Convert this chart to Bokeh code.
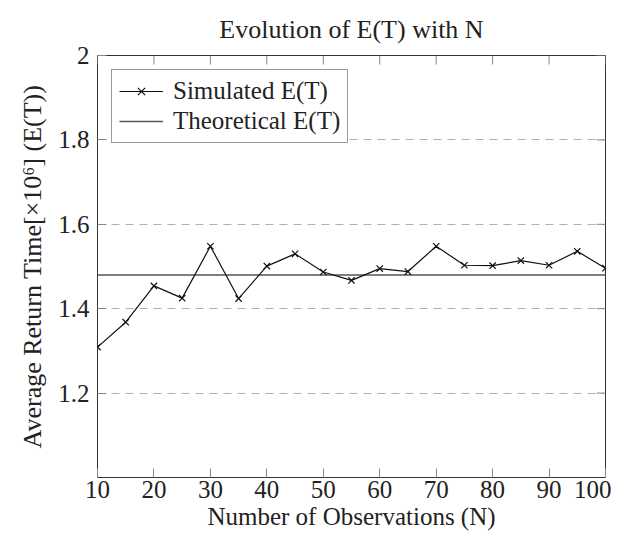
from bokeh.plotting import figure
from bokeh.models import (FixedTicker, CustomJSTickFormatter, Range1d,
                          Legend, LegendItem)
from bokeh.embed import file_html
from bokeh.resources import INLINE

observations = [10, 15, 20, 25, 30, 35, 40, 45, 50, 55, 60, 65, 70, 75, 80, 85, 90, 95, 100]
simulated = [1.309, 1.368, 1.454, 1.425, 1.548, 1.424, 1.501, 1.530, 1.487, 1.467,
             1.495, 1.488, 1.548, 1.503, 1.502, 1.514, 1.503, 1.536, 1.496]
theoretical_value = 1.48
theoretical_x = [10, 100]
theoretical = [theoretical_value, theoretical_value]
x_ticks = [10, 20, 30, 40, 50, 60, 70, 80, 90, 100]
y_ticks = [1.2, 1.4, 1.6, 1.8, 2.0]
x_min, x_max = 10, 100
y_min, y_max = 1.0, 2.0

FONT = "Liberation Serif"
TICK_COLOR = "#888888"
TEXT_COLOR = "#222222"

W, H = 611, 534
BL, BR, BT, BB = 97, 6, 55, 57

p = figure(width=W, height=H, output_backend="svg", toolbar_location=None,
           x_range=Range1d(x_min, x_max), y_range=Range1d(y_min, y_max),
           min_border_left=BL, min_border_right=BR, min_border_top=BT, min_border_bottom=BB)

p.title.text = "Evolution of E(T) with N"
p.title.text_font = FONT
p.title.text_font_size = "26px"
p.title.text_font_style = "normal"
p.title.align = "center"
p.title.vertical_align = "top"
p.title.text_color = TEXT_COLOR
p.title.standoff = 19

p.outline_line_color = "#333333"
p.outline_line_width = 1
p.background_fill_color = "white"
p.border_fill_color = "white"

fmt = CustomJSTickFormatter(code="return (Math.abs(tick-2)<1e-9) ? '2' : tick.toFixed(1);")

p.xaxis.ticker = FixedTicker(ticks=x_ticks)
p.yaxis.ticker = FixedTicker(ticks=y_ticks)
p.yaxis.formatter = fmt
p.xaxis.axis_label = "Number of Observations (N)"
p.yaxis.axis_label = "Average Return Time[×10⁶] (E(T))"

for ax in [p.xaxis[0], p.yaxis[0]]:
    ax.axis_line_color = None
    ax.major_tick_in = 9
    ax.major_tick_out = 0
    ax.major_tick_line_color = TICK_COLOR
    ax.minor_tick_line_color = None
    ax.major_label_text_font = FONT
    ax.major_label_text_font_size = "25px"
    ax.major_label_text_color = TEXT_COLOR
    ax.axis_label_text_font = FONT
    ax.axis_label_text_font_style = "normal"
    ax.axis_label_text_color = TEXT_COLOR
p.xaxis.axis_label_text_font_size = "25px"
p.yaxis.axis_label_text_font_size = "26px"
p.xaxis.major_label_standoff = 3
p.yaxis.major_label_standoff = 8
p.xaxis.axis_label_standoff = 2
p.yaxis.axis_label_standoff = 8

# mirrored ticks on top and right edges (inward), in data units from the frame size
frame_w = W - BL - BR
frame_h = H - BT - BB
tick_len = 9
dy = (y_max - y_min) * tick_len / frame_h
dx = (x_max - x_min) * tick_len / frame_w
p.segment(x0=x_ticks, y0=[y_max] * len(x_ticks), x1=x_ticks, y1=[y_max - dy] * len(x_ticks),
          line_color=TICK_COLOR, line_width=1)
p.segment(x0=[x_max] * len(y_ticks), y0=y_ticks, x1=[x_max - dx] * len(y_ticks), y1=y_ticks,
          line_color=TICK_COLOR, line_width=1)

p.xgrid[0].grid_line_color = None
p.ygrid[0].ticker = FixedTicker(ticks=[1.2, 1.4, 1.6, 1.8])
p.ygrid[0].grid_line_color = "#b0b0b0"
p.ygrid[0].grid_line_dash = "8 6"
p.ygrid[0].grid_line_width = 1

theo = p.line(theoretical_x, theoretical, line_color="#555555", line_width=1.5)
sim_line = p.line(observations, simulated, line_color="#111111", line_width=1.2)
sim_pts = p.scatter(observations, simulated, marker="x", size=9, line_color="#111111",
                    line_width=1.2)

legend = Legend(items=[LegendItem(label="Simulated E(T)", renderers=[sim_line, sim_pts]),
                       LegendItem(label="Theoretical E(T)", renderers=[theo])],
                location="top_left", margin=14, padding=7, spacing=2,
                glyph_width=44, glyph_height=26, label_height=26,
                label_text_font=FONT, label_text_font_size="25px", label_text_color=TEXT_COLOR,
                border_line_color="#333333", border_line_width=1,
                background_fill_alpha=1.0, label_standoff=10)
p.add_layout(legend)

open("out.html", "w").write(file_html(p, INLINE))
